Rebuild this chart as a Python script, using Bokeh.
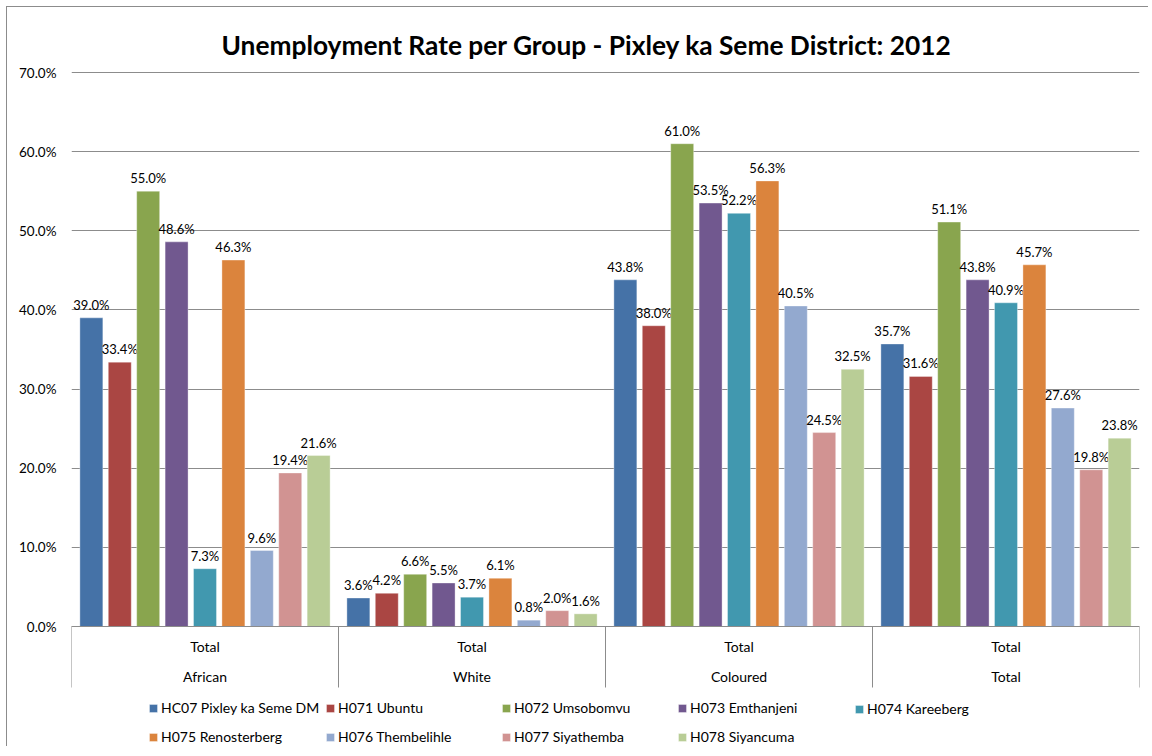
from bokeh.plotting import figure
from bokeh.models import (Range1d, FixedTicker, PrintfTickFormatter, Legend,
                          LegendItem, ColumnDataSource)
from bokeh.core.properties import value
from bokeh.embed import file_html
from bokeh.resources import INLINE

# ---------------- data ----------------
title_text = "Unemployment Rate per Group - Pixley ka Seme District: 2012"
groups = ["African", "White", "Coloured", "Total"]
sub_labels = ["Total", "Total", "Total", "Total"]
series = ["HC07 Pixley ka Seme DM", "H071 Ubuntu", "H072 Umsobomvu",
          "H073 Emthanjeni", "H074 Kareeberg", "H075 Renosterberg",
          "H076 Thembelihle", "H077 Siyathemba", "H078 Siyancuma"]
colors = ["#4572A7", "#AA4643", "#89A54E", "#71588F", "#4198AF",
          "#DB843D", "#93A9CF", "#D19392", "#B9CD96"]
hc07 = [39.0, 3.6, 43.8, 35.7]
h071 = [33.4, 4.2, 38.0, 31.6]
h072 = [55.0, 6.6, 61.0, 51.1]
h073 = [48.6, 5.5, 53.5, 43.8]
h074 = [7.3, 3.7, 52.2, 40.9]
h075 = [46.3, 6.1, 56.3, 45.7]
h076 = [9.6, 0.8, 40.5, 27.6]
h077 = [19.4, 2.0, 24.5, 19.8]
h078 = [21.6, 1.6, 32.5, 23.8]
values_by_series = [hc07, h071, h072, h073, h074, h075, h076, h077, h078]
y_ticks = [0, 10, 20, 30, 40, 50, 60, 70]

# ---------------- layout ----------------
FONT = "Lato"
shift = 6              # extra css margin so the chart border sits at ~7px
origin = 2 + shift     # page offset of figure content
frame_top = 72         # page y
frame_left = 72        # page x
frame_right = 1140     # page x
frame_bottom = 748     # page y
zero_y = 627
W = 1150 - origin
H = frame_bottom - origin
px_per_unit = (zero_y - 73) / 70.0
y_bottom = -(frame_bottom - zero_y) / px_per_unit
y_top = 70 + (73 - frame_top) / px_per_unit
step = 0.1064
bar_w = 0.086
n_s = len(series)

p = figure(width=W, height=H, output_backend="svg", toolbar_location=None,
           x_range=Range1d(0, len(groups)), y_range=Range1d(y_bottom, y_top),
           min_border_left=frame_left - origin,
           min_border_right=(origin + W) - frame_right,
           min_border_top=frame_top - origin, min_border_bottom=0, tools="")
p.styles = {"margin-left": "%dpx" % shift, "margin-top": "%dpx" % shift,
            "border-top": "1px solid #8c8c8c",
            "border-left": "1px solid #8c8c8c"}
p.outline_line_color = None
p.background_fill_color = "white"
p.border_fill_color = "white"

p.title.text = title_text
p.title.align = "left"
p.title.offset = 150
p.title.vertical_align = "middle"
p.title.text_font = FONT
p.title.text_font_style = "bold"
p.title.text_font_size = "26.3px"
p.title.text_color = "black"
p.title.standoff = 20

p.xaxis.visible = False
p.xgrid.visible = False
p.yaxis.ticker = FixedTicker(ticks=y_ticks)
p.yaxis.formatter = PrintfTickFormatter(format="%.1f%%")
p.yaxis.axis_line_color = None
p.yaxis.major_tick_line_color = None
p.yaxis.minor_tick_line_color = None
p.yaxis.major_tick_out = 0
p.yaxis.major_tick_in = 0
p.yaxis.major_label_standoff = 15
p.yaxis.major_label_text_font = FONT
p.yaxis.major_label_text_font_size = "13.5px"
p.yaxis.major_label_text_color = "black"
p.ygrid.ticker = FixedTicker(ticks=y_ticks)
p.ygrid.grid_line_color = "#8c8c8c"
p.ygrid.grid_line_width = 1

renderers = []
for j, (name, vals, col) in enumerate(zip(series, values_by_series, colors)):
    xs = [g + 0.5 + (j - (n_s - 1) / 2) * step for g in range(len(groups))]
    src = ColumnDataSource(dict(x=xs, top=vals,
                                lab=["%.1f%%" % v for v in vals]))
    r = p.vbar(x="x", top="top", bottom=0, width=bar_w, source=src,
               fill_color=col, line_color="white", line_alpha=0.35)
    p.text(x="x", y="top", text="lab", source=src, text_align="center",
           text_baseline="bottom", y_offset=-5, text_font=value(FONT),
           text_font_size="13px", text_color="black")
    renderers.append(r)

# category axis area
sep_x = list(range(len(groups) + 1))
p.segment(x0=[0], y0=[0], x1=[len(groups)], y1=[0], line_color="#8c8c8c",
          line_width=1)
p.segment(x0=sep_x, y0=[0] * len(sep_x), x1=sep_x,
          y1=[-(688 - zero_y) / px_per_unit] * len(sep_x),
          line_color="#8c8c8c", line_width=1)
centers = [g + 0.5 for g in range(len(groups))]
p.text(x=centers, y=[-(647 - zero_y) / px_per_unit] * len(groups),
       text=sub_labels, text_align="center", text_baseline="middle",
       text_font=value(FONT), text_font_size="14px", text_color="black")
p.text(x=centers, y=[-(677 - zero_y) / px_per_unit] * len(groups),
       text=groups, text_align="center", text_baseline="middle",
       text_font=value(FONT), text_font_size="14px", text_color="black")

# legend: 5 columns x 2 rows, row-major like the reference
ncols = 5
col_step = 176.5
row_step = 28
legend_bottom_pad = frame_bottom - 746
for k in range(ncols):
    idx = [i for i in (k, k + ncols) if i < n_s]
    its = [LegendItem(label=series[i], renderers=[renderers[i]]) for i in idx]
    y_loc = legend_bottom_pad + (0 if len(idx) == 2 else row_step)
    lg = Legend(items=its,
                location=(int(round(149 - frame_left + k * col_step)), y_loc),
                orientation="vertical", glyph_width=10, glyph_height=10,
                label_height=16, label_standoff=3, spacing=row_step - 16,
                padding=0, margin=0, border_line_color=None,
                background_fill_alpha=0, label_text_font=FONT,
                label_text_font_size="14px", label_text_color="black",
                label_text_baseline="middle")
    p.add_layout(lg)

open("out.html", "w").write(file_html(p, INLINE))
